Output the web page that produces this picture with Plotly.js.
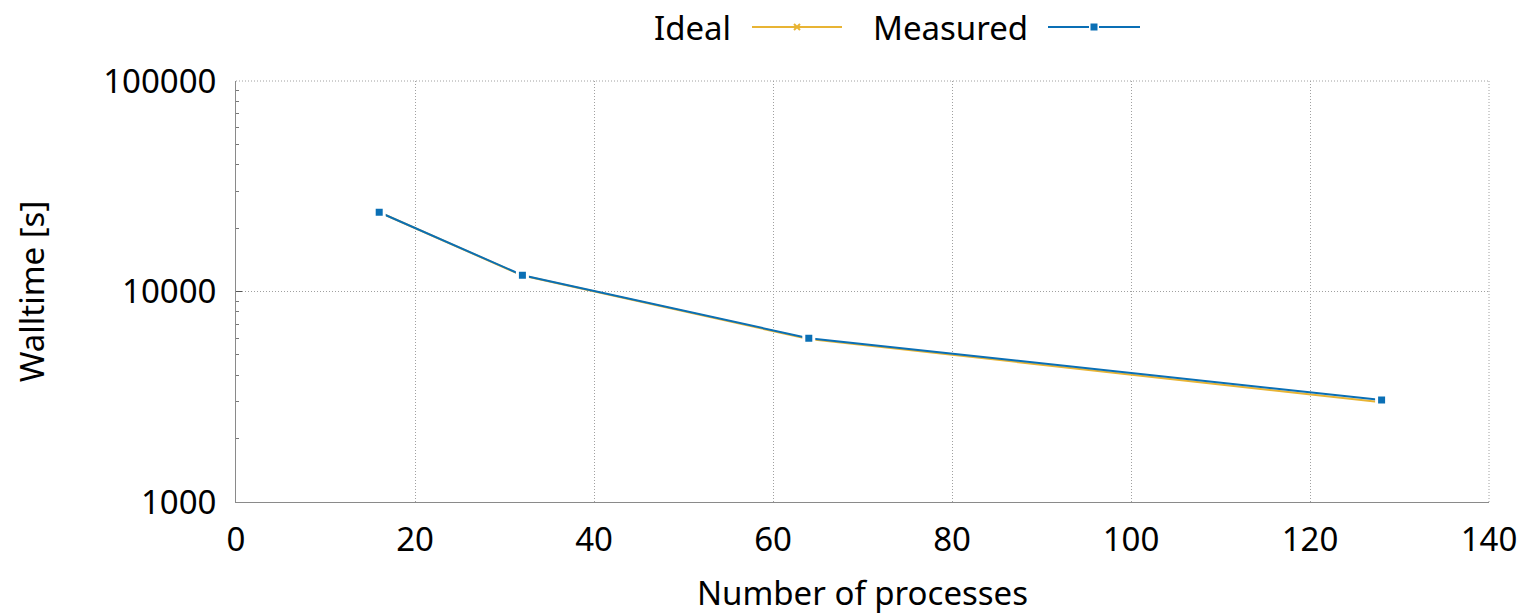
<!DOCTYPE html>
<html>
<head>
<meta charset="utf-8">
<script src="https://cdn.plot.ly/plotly-3.0.1.min.js"></script>
<style>html,body{margin:0;padding:0;background:#fff;}#chart{width:1527px;height:615px;}</style>
</head>
<body>
<div id="chart"></div>
<script>
// ---- data ----
const processes = [16, 32, 64, 128];
const idealTime = [23800, 11900, 5950, 2975];
const measuredTime = [23800, 11950, 6000, 3050];
const seriesNames = ["Ideal", "Measured"];
const xTickVals = [0, 20, 40, 60, 80, 100, 120, 140];
const yTickVals = [1000, 10000, 100000];
const yTickText = ["1000", "10000", "100000"];
const yMinorVals = [2000, 3000, 4000, 5000, 6000, 7000, 8000, 9000,
                    20000, 30000, 40000, 50000, 60000, 70000, 80000, 90000];

const cIdeal = "#e8b434";
const cMeas = "#0a6fb5";
const FONT = "Noto Sans, Open Sans, sans-serif";
const FS = 33;
const GRID = "#a0a0a0";
const GDASH = "1px,2px";

// plot box in pixels
const L = 236, R = 1489, T = 81, B = 502;
const px = v => (v - L) / (R - L);
const py = v => (B - v) / (B - T);

const traces = [
  {
    x: processes, y: idealTime, name: seriesNames[0], type: "scatter", mode: "lines+markers",
    line: {color: cIdeal, width: 2},
    marker: {symbol: "x-thin", size: 6, line: {color: cIdeal, width: 2}},
    showlegend: false
  },
  {
    x: processes, y: measuredTime, name: seriesNames[1], type: "scatter", mode: "lines+markers",
    line: {color: cMeas, width: 2},
    marker: {symbol: "square", size: 10, color: cMeas, line: {color: "#ffffff", width: 3}},
    showlegend: false
  }
];

// legend drawn as annotations + shapes
const legY = py(27);
const shapes = [
  // grid lines at the top and right edges of the plot box
  {type: "line", xref: "paper", yref: "paper", x0: 0, x1: 1, y0: 1, y1: 1, line: {color: GRID, width: 1, dash: GDASH}},
  {type: "line", xref: "paper", yref: "paper", x0: 1, x1: 1, y0: 0, y1: 1, line: {color: GRID, width: 1, dash: GDASH}},
  // legend samples
  {type: "line", xref: "paper", yref: "paper", x0: px(752), x1: px(842), y0: legY, y1: legY, line: {color: cIdeal, width: 2}},
  {type: "line", xref: "paper", yref: "paper", x0: px(794), x1: px(800), y0: py(24), y1: py(30), line: {color: cIdeal, width: 2}},
  {type: "line", xref: "paper", yref: "paper", x0: px(794), x1: px(800), y0: py(30), y1: py(24), line: {color: cIdeal, width: 2}},
  {type: "line", xref: "paper", yref: "paper", x0: px(1048), x1: px(1140), y0: legY, y1: legY, line: {color: cMeas, width: 2}},
  {type: "rect", xref: "paper", yref: "paper", x0: px(1089), x1: px(1099), y0: py(22), y1: py(32), fillcolor: "#ffffff", line: {width: 0}},
  {type: "rect", xref: "paper", yref: "paper", x0: px(1090.5), x1: px(1097.5), y0: py(23.5), y1: py(30.5), fillcolor: cMeas, line: {width: 0}}
];

const annotations = [
  {xref: "paper", yref: "paper", x: px(733), y: legY, xanchor: "right", yanchor: "middle", text: seriesNames[0], showarrow: false, font: {family: FONT, size: FS, color: "#000"}},
  {xref: "paper", yref: "paper", x: px(1030), y: legY, xanchor: "right", yanchor: "middle", text: seriesNames[1], showarrow: false, font: {family: FONT, size: FS, color: "#000"}}
];

const layout = {
  width: 1527, height: 615,
  margin: {l: L, r: 1527 - R, t: T, b: 615 - B, pad: 0},
  paper_bgcolor: "#fff", plot_bgcolor: "#fff",
  showlegend: false,
  font: {family: FONT, size: FS, color: "#000"},
  xaxis: {
    range: [0, 140], tickvals: xTickVals, ticktext: xTickVals.map(String),
    showline: true, linecolor: "#8a8a8a", linewidth: 1, mirror: false,
    showgrid: true, gridcolor: GRID, griddash: GDASH, gridwidth: 1,
    zeroline: false, ticks: "", ticklabelstandoff: 8,
    tickfont: {family: FONT, size: FS, color: "#000"},
    title: {text: "Number of processes", font: {family: FONT, size: FS, color: "#000"}, standoff: 24}
  },
  yaxis: {
    type: "log", range: [3, 5], tickvals: yTickVals, ticktext: yTickText,
    showline: true, linecolor: "#8a8a8a", linewidth: 1, mirror: false,
    showgrid: true, gridcolor: GRID, griddash: GDASH, gridwidth: 1,
    zeroline: false, ticks: "inside", ticklen: 6, tickcolor: "#555",
    ticklabelstandoff: 12,
    minor: {tickvals: yMinorVals, ticks: "inside", ticklen: 3, tickcolor: "#777", showgrid: false},
    tickfont: {family: FONT, size: FS, color: "#000"},
    title: {text: "Walltime [s]", font: {family: FONT, size: FS, color: "#000"}, standoff: 48}
  },
  shapes: shapes,
  annotations: annotations
};

Plotly.newPlot("chart", traces, layout, {displayModeBar: false, staticPlot: true});
</script>
</body>
</html>
